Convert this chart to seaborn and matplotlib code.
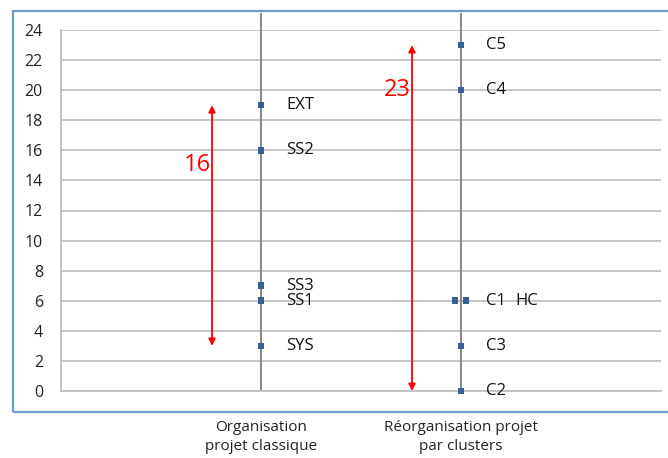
import numpy as np
import pandas as pd
import matplotlib
matplotlib.use('Agg')
import matplotlib.pyplot as plt
import seaborn as sns
from matplotlib.patches import Rectangle

# data
groups = ['Organisation\nprojet classique', 'Réorganisation projet\npar clusters']
classique_labels = ['EXT', 'SS2', 'SS3', 'SS1', 'SYS']
classique_values = [19, 16, 7, 6, 3]
cluster_labels = ['C5', 'C4', 'C1', 'HC', 'C3', 'C2']
cluster_values = [23, 20, 6, 6, 3, 0]
cluster_shift = [0, 0, -0.03, 0.025, 0, 0]   # C1 / HC drawn side by side
ranges = [(3, 19), (0, 23)]

df = pd.DataFrame({
    'label': classique_labels + cluster_labels,
    'value': classique_values + cluster_values,
    'x': [1.0] * len(classique_values) + [2.0 + s for s in cluster_shift],
})

sns.set_style('white')
plt.rcParams['font.family'] = ['Open Sans', 'DejaVu Sans']

fig = plt.figure(figsize=(6.68, 4.58), dpi=100)
ax = fig.add_axes([61 / 668, 67 / 458, 600 / 668, 361 / 458])

grid_c = '#c0c0c0'
ax.set_xlim(0, 3)
ax.set_ylim(0, 24)
ax.set_yticks(range(0, 25, 2))
ax.yaxis.grid(True, color=grid_c, lw=1.3)
ax.set_axisbelow(True)
for s in ['top', 'right']:
    ax.spines[s].set_visible(False)
for s in ['left', 'bottom']:
    ax.spines[s].set_color(grid_c)
    ax.spines[s].set_linewidth(1.3)

ax.set_xticks([0, 1, 2, 3])
ax.set_xticklabels([''] + groups + [''], fontsize=11, color='#222222', linespacing=1.35)
ax.tick_params(axis='x', length=4, width=1.2, color=grid_c, pad=17)
ax.tick_params(axis='y', length=5, width=1.2, color=grid_c, pad=8, labelsize=11.5,
               labelcolor='#222222')

# vertical category lines, running a bit above the plot area
ax.vlines([1, 2], 0, 25.15, color='#808080', lw=1.3, clip_on=False, zorder=2)

sns.scatterplot(data=df, x='x', y='value', marker='s', s=22, color='#3a5f94',
                edgecolor='none', ax=ax, zorder=3, clip_on=False)
ax.set_xlabel('')
ax.set_ylabel('')

for lab, xv, yv in zip(df['label'], df['x'], df['value']):
    base = round(xv)
    dx = 0.27 if lab == 'HC' else 0.125
    ax.text(base + dx, yv, lab, fontsize=12, va='center', ha='left', color='#111111')

# red range arrows with their spans
for i, (lo, hi) in enumerate(ranges):
    xa = i + 0.755
    ax.annotate('', xy=(xa, hi), xytext=(xa, lo),
                arrowprops=dict(arrowstyle='<|-|>', color='red', lw=1.3,
                                mutation_scale=10, shrinkA=0, shrinkB=0))
    label_y = hi - 4 if i == 0 else hi - 3
    ax.text(xa - 0.075, label_y, str(hi - lo), color='red', fontsize=17,
            ha='center', va='center')

# chart frame
fig.patches.append(Rectangle((13 / 668, 46 / 458), 1.0, 401 / 458, transform=fig.transFigure,
                             fill=False, edgecolor='#6f9bd3', lw=1.6))

plt.savefig('out.png', dpi=100)
plt.close()
